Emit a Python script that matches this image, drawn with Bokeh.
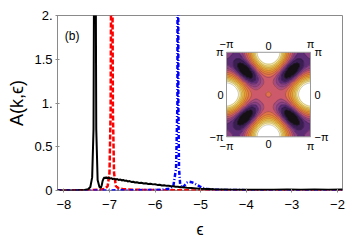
import numpy as np
from bokeh.plotting import figure
from bokeh.plotting.contour import contour_data
from bokeh.models import (Range1d, FixedTicker, LinearColorMapper, Label)
from bokeh.core.properties import value
from bokeh.embed import file_html
from bokeh.resources import INLINE

# ---------------- data ----------------
black_eps = [-8.14, -7.7, -7.55, -7.47, -7.42, -7.38, -7.35, -7.335, -7.32, -7.305, -7.29,
             -7.26, -7.22, -7.19, -7.17, -7.15, -7.13, -7.11, -7.09, -7.07, -7.05, -7.02,
             -6.99, -6.96, -6.93, -6.9, -6.86, -6.83, -6.8, -6.76, -6.73, -6.7, -6.66,
             -6.63, -6.6, -6.56, -6.52, -6.48, -6.44, -6.4, -6.35, -6.3, -6.25, -6.2,
             -6.15, -6.1, -6.05, -6.0, -5.95, -5.9, -5.85, -5.8, -5.75, -5.7, -5.65,
             -5.6, -5.55, -5.5, -5.45, -5.4, -5.3, -5.2, -5.1, -5.0, -4.85, -4.7,
             -4.5, -4.3, -4.0, -3.7, -3.4, -3.1, -2.8, -2.5, -2.2, -1.89]
black_A = [0.0, 0.002, 0.006, 0.015, 0.04, 0.15, 0.7, 3.0, 6.0, 3.0, 0.7,
           0.12, 0.04, 0.03, 0.06, 0.11, 0.135, 0.15, 0.14, 0.152, 0.138, 0.148,
           0.135, 0.142, 0.13, 0.136, 0.125, 0.131, 0.12, 0.126, 0.115, 0.12, 0.11,
           0.114, 0.104, 0.108, 0.098, 0.1, 0.092, 0.094, 0.086, 0.088, 0.08, 0.082,
           0.075, 0.077, 0.07, 0.071, 0.064, 0.066, 0.058, 0.06, 0.053, 0.054, 0.048,
           0.049, 0.043, 0.043, 0.038, 0.037, 0.032, 0.028, 0.024, 0.02, 0.017, 0.014,
           0.012, 0.01, 0.009, 0.009, 0.01, 0.011, 0.01, 0.011, 0.01, 0.011]

red_eps = [-8.14, -7.7, -7.4, -7.2, -7.1, -7.04, -7.0, -6.975, -6.96, -6.95, -6.94,
           -6.925, -6.9, -6.86, -6.8, -6.7, -6.5, -6.2, -5.9, -5.5, -5.0, -4.0, -1.89]
red_A = [0.0, 0.002, 0.004, 0.009, 0.02, 0.05, 0.2, 0.9, 3.0, 6.0, 3.0,
         0.9, 0.2, 0.05, 0.025, 0.015, 0.009, 0.006, 0.004, 0.002, 0.001, 0.0, 0.0]

blue_eps = [-8.14, -7.0, -6.5, -6.0, -5.8, -5.68, -5.6, -5.54, -5.51, -5.5, -5.49,
            -5.475, -5.45, -5.42, -5.39, -5.35, -5.3, -5.25, -5.2, -5.15, -5.1,
            -5.05, -5.0, -4.95, -4.85, -4.7, -4.5, -4.0, -3.0, -1.89]
blue_A = [0.0, 0.001, 0.003, 0.006, 0.011, 0.02, 0.05, 0.25, 1.0, 6.0, 1.0,
          0.25, 0.07, 0.04, 0.035, 0.06, 0.09, 0.1, 0.095, 0.085, 0.07,
          0.055, 0.04, 0.028, 0.016, 0.009, 0.006, 0.004, 0.003, 0.002]

x_ticks = [-8, -7, -6, -5, -4, -3, -2]
x_tick_labels = ["\u22128", "\u22127", "\u22126", "\u22125", "\u22124", "\u22123", "\u22122"]
y_ticks = [0, 0.5, 1, 1.5, 2]
y_tick_labels = ["0", "0.5", "1.", "1.5", "2."]

# inset: band-map coefficients (in cos kx, cos ky), contour levels and band colours
k_ticks = [-np.pi, 0.0, np.pi]
k_tick_labels = ["\u2212\u03c0", "0", "\u03c0"]
c_sq = 1.484      # (cos kx)^2 + (cos ky)^2
c_mix = -2.0325   # cos kx * cos ky
c_lin = 0.1425    # cos kx + cos ky
c_0 = -1.0
levels = [-0.8, -0.6, -0.42, -0.25, -0.08, 0.2, 0.5, 0.8, 1.1, 1.4, 1.7, 2.0, 2.4]
band_colors = ["#141014", "#3a1e52", "#5c2c74", "#8a4286", "#a54c80", "#cc5a6a",
               "#e2744a", "#ec883a", "#f1a038", "#f5b844", "#f7cc56", "#fadf78",
               "#fdeeaa", "#ffffff"]

# ---------------- layout constants ----------------
W, H = 350, 240
FL, FR, FT, FB = 57, 342, 15, 191         # frame edges in canvas px
IL, IR, IT, IB = 226, 310, 52, 137        # inset box in canvas px

p = figure(width=W, height=H, output_backend="svg", toolbar_location=None,
           x_range=Range1d(-8.14, -1.89), y_range=Range1d(0, 2),
           min_border_left=FL, min_border_right=W - FR,
           min_border_top=FT, min_border_bottom=H - FB)
p.background_fill_color = "white"
p.border_fill_color = "white"
p.outline_line_color = "#8a8a8a"
p.outline_line_width = 1
p.xgrid.visible = False
p.ygrid.visible = False

for ax, ticks, labels in ((p.xaxis[0], x_ticks, x_tick_labels), (p.yaxis[0], y_ticks, y_tick_labels)):
    ax.ticker = FixedTicker(ticks=ticks, minor_ticks=[])
    ax.major_label_overrides = {t: l for t, l in zip(ticks, labels)}
    ax.axis_line_color = None
    ax.major_tick_line_color = "#8a8a8a"
    ax.major_tick_in = 2
    ax.major_tick_out = 2
    ax.major_label_text_font = "Liberation Sans"
    ax.major_label_text_font_size = "13px"
    ax.major_label_text_color = "black"
    ax.axis_label_text_font = "Liberation Sans"
    ax.axis_label_text_font_style = "normal"
    ax.axis_label_text_color = "black"

p.xaxis.major_label_standoff = 7
p.yaxis.major_label_standoff = 3
p.xaxis.axis_label = "\u03f5"
p.xaxis.axis_label_text_font_size = "16px"
p.xaxis.axis_label_standoff = 9
p.yaxis.axis_label = "A(k,\u03f5)"
p.yaxis.axis_label_text_font_size = "18px"
p.yaxis.axis_label_standoff = 4

# main curves
p.line(red_eps, red_A, line_color="#ff0000", line_width=2.5, line_dash="5 2")
p.line(blue_eps, blue_A, line_color="#0000ff", line_width=2.5, line_dash="4 2 1 2")
p.line(black_eps, black_A, line_color="black", line_width=2)

p.add_layout(Label(x=-7.82, y=1.77, text="(b)", text_align="center", text_baseline="middle",
                   text_font="Liberation Sans", text_font_size="12px", text_color="black"))

# ---------------- inset ----------------
sx = (IR - IL) / (2 * np.pi)
sy = (IB - IT) / (2 * np.pi)
p.extra_x_ranges = {"kx": Range1d(-np.pi - (IL - FL) / sx, np.pi + (FR - IR) / sx)}
p.extra_y_ranges = {"ky": Range1d(-np.pi - (FB - IB) / sy, np.pi + (IT - FT) / sy)}

kx = np.linspace(-np.pi, np.pi, 169)
ky = np.linspace(-np.pi, np.pi, 169)
KX, KY = np.meshgrid(kx, ky)
U, V = np.cos(KX), np.cos(KY)
Z = c_sq * (U ** 2 + V ** 2) + c_mix * U * V + c_lin * (U + V) + c_0

band = np.digitize(Z, levels).astype(float)
mapper = LinearColorMapper(palette=band_colors, low=-0.5, high=len(band_colors) - 0.5)
p.image(image=[band], x=-np.pi, y=-np.pi, dw=2 * np.pi, dh=2 * np.pi, color_mapper=mapper,
        x_range_name="kx", y_range_name="ky")

cd = contour_data(KX, KY, Z, levels, want_fill=False, want_line=True)
p.multi_line(xs=list(cd.line_data.xs), ys=list(cd.line_data.ys), line_color="#1a1a1a",
             line_width=0.4, line_alpha=0.5, x_range_name="kx", y_range_name="ky")

p.quad(left=[-np.pi], right=[np.pi], bottom=[-np.pi], top=[np.pi], fill_color=None,
       line_color="#9a9a9a", line_width=1, x_range_name="kx", y_range_name="ky")

n = len(k_ticks)
common = dict(text_font=value("Liberation Sans"), text_font_size="11px", text_color="black",
              x_range_name="kx", y_range_name="ky")
# top
p.text(x=k_ticks, y=[np.pi] * n, text=k_tick_labels, text_align="center",
       text_baseline="bottom", y_offset=-2, **common)
# bottom
p.text(x=k_ticks, y=[-np.pi] * n, text=k_tick_labels, text_align="center",
       text_baseline="top", y_offset=3, **common)
# left
p.text(x=[-np.pi] * n, y=k_ticks[::-1], text=k_tick_labels[::-1], text_align="right",
       text_baseline="middle", x_offset=-3, **common)
# right
p.text(x=[np.pi] * n, y=k_ticks[::-1], text=k_tick_labels[::-1], text_align="left",
       text_baseline="middle", x_offset=4, **common)

open("out.html", "w").write(file_html(p, INLINE))
